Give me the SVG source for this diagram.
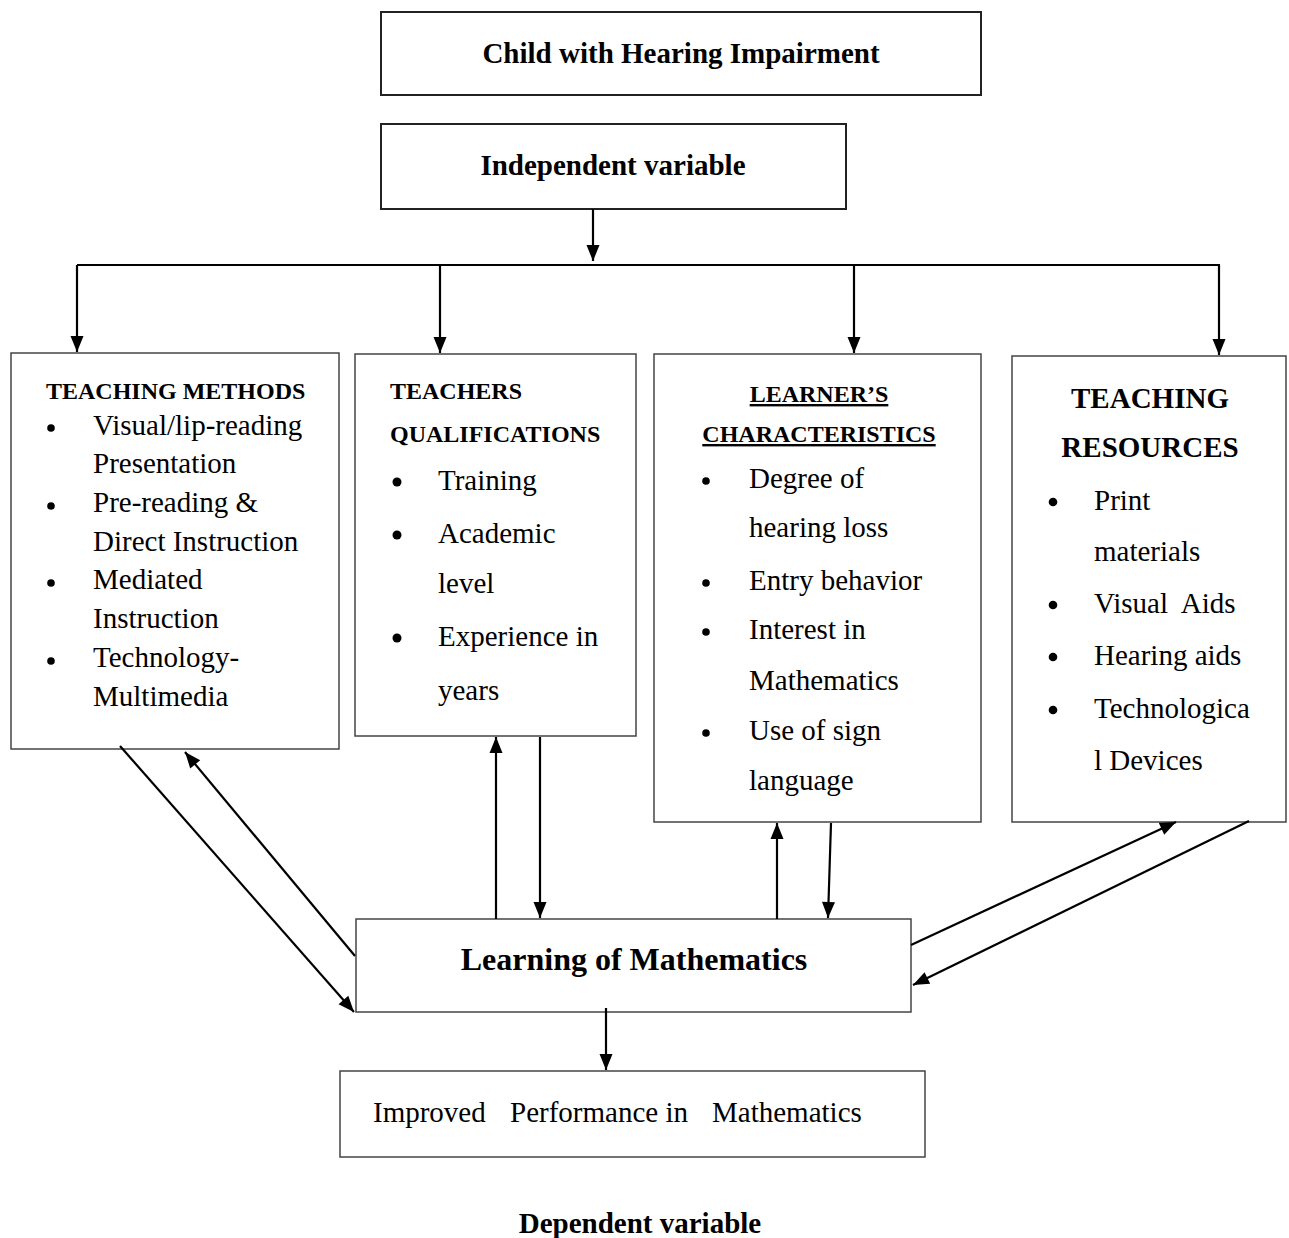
<svg xmlns="http://www.w3.org/2000/svg" width="1289" height="1238" viewBox="0 0 1289 1238">
<defs>
<marker id="ah" markerUnits="userSpaceOnUse" markerWidth="18" markerHeight="14" refX="16" refY="6.5" orient="auto" overflow="visible">
<path d="M0,0 L16,6.5 L0,13 z" fill="#000"/>
</marker>
<style>
text{font-family:"Liberation Serif","Times New Roman",serif;fill:#000}
.box{fill:#fff;stroke:#444;stroke-width:1.5}
.box2{fill:#fff;stroke:#222;stroke-width:2}
.b29{font-size:29px;font-weight:bold}
.b24{font-size:24px;font-weight:bold}
.r29{font-size:29px}
.mid{text-anchor:middle}
.ul{text-decoration:underline}
.con{stroke:#000;stroke-width:2.2;fill:none}
.arr{marker-end:url(#ah)}
.dot{fill:#000}
</style>
</defs>
<rect width="1289" height="1238" fill="#fff"/>

<g id="child">
<rect class="box2" x="381" y="12" width="600" height="83"/>
<text class="b29 mid" x="681" y="63">Child with Hearing Impairment</text>
</g>

<g id="independent">
<rect class="box2" x="381" y="124" width="465" height="85"/>
<text class="b29 mid" x="613" y="175">Independent variable</text>
</g>

<g id="teaching-methods">
<rect class="box" x="11" y="353" width="328" height="396"/>
<text class="b24" x="46" y="399">TEACHING METHODS</text>
<circle class="dot" cx="51" cy="428" r="3.8"/>
<circle class="dot" cx="51" cy="506" r="3.8"/>
<circle class="dot" cx="51" cy="583" r="3.8"/>
<circle class="dot" cx="51" cy="661" r="3.8"/>
<text class="r29" x="93" y="435">Visual/lip-reading</text>
<text class="r29" x="93" y="473">Presentation</text>
<text class="r29" x="93" y="512">Pre-reading &amp;</text>
<text class="r29" x="93" y="551">Direct Instruction</text>
<text class="r29" x="93" y="589">Mediated</text>
<text class="r29" x="93" y="628">Instruction</text>
<text class="r29" x="93" y="667">Technology-</text>
<text class="r29" x="93" y="706">Multimedia</text>
</g>

<g id="teachers-qualifications">
<rect class="box" x="355" y="354" width="281" height="382"/>
<text class="b24" x="390" y="399">TEACHERS</text>
<text class="b24" x="390" y="442">QUALIFICATIONS</text>
<circle class="dot" cx="397" cy="482" r="4.5"/>
<circle class="dot" cx="397" cy="535" r="4.5"/>
<circle class="dot" cx="397" cy="638" r="4.5"/>
<text class="r29" x="438" y="490">Training</text>
<text class="r29" x="438" y="543">Academic</text>
<text class="r29" x="438" y="593">level</text>
<text class="r29" x="438" y="646">Experience in</text>
<text class="r29" x="438" y="700">years</text>
</g>

<g id="learners-characteristics">
<rect class="box" x="654" y="354" width="327" height="468"/>
<text class="b24 mid ul" x="819" y="402">LEARNER’S</text>
<text class="b24 mid ul" x="819" y="442">CHARACTERISTICS</text>
<circle class="dot" cx="706" cy="481" r="3.8"/>
<circle class="dot" cx="706" cy="583" r="3.8"/>
<circle class="dot" cx="706" cy="632" r="3.8"/>
<circle class="dot" cx="706" cy="733" r="3.8"/>
<text class="r29" x="749" y="488">Degree of</text>
<text class="r29" x="749" y="537">hearing loss</text>
<text class="r29" x="749" y="590">Entry behavior</text>
<text class="r29" x="749" y="639">Interest in</text>
<text class="r29" x="749" y="690">Mathematics</text>
<text class="r29" x="749" y="740">Use of sign</text>
<text class="r29" x="749" y="790">language</text>
</g>

<g id="teaching-resources">
<rect class="box" x="1012" y="356" width="274" height="466"/>
<text class="b29 mid" x="1150" y="408">TEACHING</text>
<text class="b29 mid" x="1150" y="457">RESOURCES</text>
<circle class="dot" cx="1053" cy="502" r="4.3"/>
<circle class="dot" cx="1053" cy="605" r="4.3"/>
<circle class="dot" cx="1053" cy="657" r="4.3"/>
<circle class="dot" cx="1053" cy="710" r="4.3"/>
<text class="r29" x="1094" y="510">Print</text>
<text class="r29" x="1094" y="561">materials</text>
<text class="r29" x="1094" y="613" xml:space="preserve">Visual  Aids</text>
<text class="r29" x="1094" y="665">Hearing aids</text>
<text class="r29" x="1094" y="718">Technologica</text>
<text class="r29" x="1094" y="770">l Devices</text>
</g>

<g id="learning">
<rect class="box" x="356" y="919" width="555" height="93"/>
<text class="mid" x="634" y="970" style="font-size:32px;font-weight:bold">Learning of Mathematics</text>
</g>

<g id="improved">
<rect class="box" x="340" y="1071" width="585" height="86"/>
<text class="r29" y="1122"><tspan x="373">Improved</tspan><tspan x="510">Performance in</tspan><tspan x="712">Mathematics</tspan></text>
</g>

<g id="dependent-label">
<text class="b29 mid" x="640" y="1233">Dependent variable</text>
</g>

<g id="connectors">
<line class="con arr" x1="593" y1="209" x2="593" y2="261"/>
<line class="con" x1="77" y1="265" x2="1220" y2="265"/>
<line class="con arr" x1="77" y1="265" x2="77" y2="352"/>
<line class="con arr" x1="440" y1="265" x2="440" y2="353"/>
<line class="con arr" x1="854" y1="265" x2="854" y2="353"/>
<line class="con arr" x1="1219" y1="265" x2="1219" y2="355"/>
<line class="con arr" x1="120" y1="746" x2="354" y2="1012"/>
<line class="con arr" x1="355" y1="956" x2="185" y2="752"/>
<line class="con arr" x1="496" y1="919" x2="496" y2="737"/>
<line class="con arr" x1="540" y1="737" x2="540" y2="918"/>
<line class="con arr" x1="777" y1="919" x2="777" y2="823"/>
<line class="con arr" x1="831" y1="823" x2="828" y2="918"/>
<line class="con arr" x1="911" y1="945" x2="1176" y2="822"/>
<line class="con arr" x1="1249" y1="821" x2="913" y2="985"/>
<line class="con arr" x1="606" y1="1008" x2="606" y2="1070"/>
</g>
</svg>
